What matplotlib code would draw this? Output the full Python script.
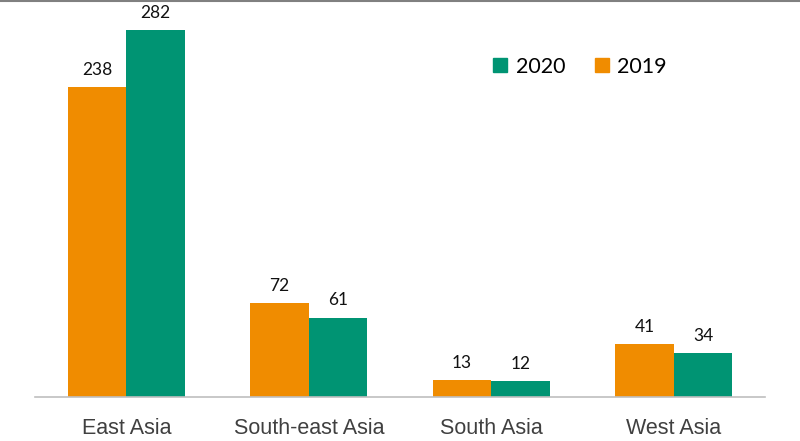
import matplotlib.pyplot as plt
import numpy as np
from matplotlib.lines import Line2D

categories = ["East Asia", "South-east Asia", "South Asia", "West Asia"]
v2019 = [238, 72, 13, 41]
v2020 = [282, 61, 12, 34]

c2019 = "#F08C00"
c2020 = "#009473"

fig = plt.figure(figsize=(8, 4.41), dpi=100)
ax = fig.add_axes([35/800, 1-397/441, 730/800, 397/441])
x = np.arange(len(categories))
w = 0.32
b1 = ax.bar(x - w/2, v2019, w, color=c2019)
b2 = ax.bar(x + w/2, v2020, w, color=c2020)
for bars, vals in ((b1, v2019), (b2, v2020)):
    for r, v in zip(bars, vals):
        ax.text(r.get_x() + r.get_width()/2, v + 7, str(v), ha="center", va="bottom",
                fontsize=12.5, family=["Lato", "DejaVu Sans"], color="#111111")
ax.set_xlim(-0.5, 3.5)
ax.set_ylim(0, 305)
ax.set_xticks(x)
ax.set_xticklabels(categories, fontsize=15.5, family=["Liberation Sans", "DejaVu Sans"], color="#404040")
ax.tick_params(axis="x", length=0, pad=15)
ax.set_yticks([])
for s in ("top", "right", "left"):
    ax.spines[s].set_visible(False)
ax.spines["bottom"].set_color("#BFBFBF")
ax.spines["bottom"].set_linewidth(1.2)

handles = [Line2D([], [], marker="s", linestyle="none", markersize=10, color=c2020),
           Line2D([], [], marker="s", linestyle="none", markersize=10, color=c2019)]
leg = fig.legend(handles, ["2020", "2019"], ncol=2, frameon=False,
                 loc="center", bbox_to_anchor=(578/800, 1-67/441),
                 prop={"family": ["Lato", "DejaVu Sans"], "size": 15.5},
                 handletextpad=0.2, columnspacing=1.2, handlelength=1.0)

fig.add_artist(Line2D([0, 1], [1-1/441, 1-1/441], color="#808080", linewidth=1.5, transform=fig.transFigure))
fig.savefig("out.png", dpi=100)
